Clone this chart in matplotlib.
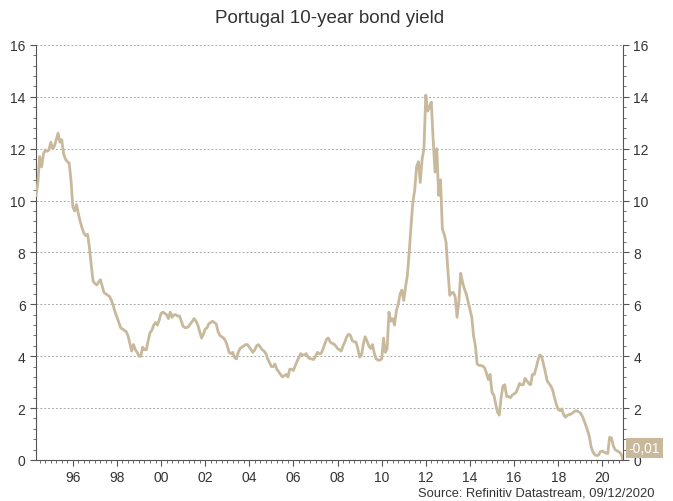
import matplotlib
matplotlib.use("Agg")
import matplotlib.pyplot as plt
import matplotlib.dates as mdates
from matplotlib.ticker import MultipleLocator
import pandas as pd

plt.rcParams['font.family'] = ['Liberation Sans', 'DejaVu Sans']

# monthly yields (%), May 1994 onwards
y1994 = [10.2, 10.7, 11.7, 11.3, 11.8, 11.95, 11.9, 11.95]
y1995 = [12.25, 12.0, 12.1, 12.35, 12.6, 12.25, 12.35, 11.8, 11.6, 11.5, 11.45, 10.8]
y1996 = [9.75, 9.6, 9.85, 9.5, 9.2, 8.95, 8.75, 8.65, 8.7, 8.2, 7.5, 6.9]
y1997 = [6.8, 6.75, 6.85, 6.95, 6.7, 6.45, 6.4, 6.35, 6.3, 6.15, 5.95, 5.7]
y1998 = [5.5, 5.3, 5.1, 5.05, 5.0, 4.95, 4.8, 4.5, 4.2, 4.45, 4.25, 4.15]
y1999 = [4.0, 4.0, 4.35, 4.25, 4.25, 4.6, 4.9, 5.0, 5.2, 5.3, 5.2, 5.4]
y2000 = [5.65, 5.7, 5.65, 5.6, 5.45, 5.7, 5.5, 5.6, 5.6, 5.55, 5.55, 5.35]
y2001 = [5.15, 5.1, 5.1, 5.15, 5.25, 5.35, 5.45, 5.35, 5.2, 4.95, 4.7, 4.85]
y2002 = [5.05, 5.1, 5.25, 5.3, 5.35, 5.3, 5.25, 4.95, 4.8, 4.75, 4.7, 4.6]
y2003 = [4.4, 4.15, 4.1, 4.15, 3.95, 3.9, 4.15, 4.3, 4.35, 4.4, 4.45, 4.45]
y2004 = [4.35, 4.25, 4.15, 4.25, 4.4, 4.45, 4.35, 4.25, 4.2, 4.1, 3.9, 3.75]
y2005 = [3.6, 3.6, 3.7, 3.5, 3.4, 3.3, 3.2, 3.25, 3.3, 3.2, 3.5, 3.5]
y2006 = [3.45, 3.65, 3.8, 3.95, 4.1, 4.05, 4.05, 4.1, 3.95, 3.9, 3.9, 3.87]
y2007 = [4.0, 4.15, 4.1, 4.1, 4.25, 4.45, 4.65, 4.7, 4.55, 4.5, 4.47, 4.4]
y2008 = [4.3, 4.25, 4.2, 4.4, 4.55, 4.75, 4.85, 4.8, 4.6, 4.55, 4.55, 4.3]
y2009 = [3.96, 4.05, 4.45, 4.75, 4.6, 4.4, 4.3, 4.45, 4.1, 3.9, 3.85, 3.85]
y2010 = [3.9, 4.7, 4.15, 4.3, 5.7, 5.35, 5.45, 5.2, 5.75, 6.0, 6.4, 6.55]
y2011 = [6.15, 6.7, 7.1, 8.0, 9.0, 9.95, 10.4, 11.3, 11.5, 10.7, 11.6, 12.0]
y2012 = [14.07, 13.45, 13.6, 13.8, 12.4, 11.1, 12.0, 10.2, 10.8, 8.9, 8.7, 8.4]
y2013 = [7.3, 6.35, 6.45, 6.46, 6.3, 5.5, 6.1, 7.2, 6.85, 6.6, 6.4, 6.1]
y2014 = [5.8, 5.5, 4.8, 4.4, 3.7, 3.65, 3.64, 3.62, 3.55, 3.35, 3.1, 3.3]
y2015 = [2.6, 2.5, 2.2, 1.85, 1.73, 2.4, 2.85, 2.9, 2.45, 2.45, 2.4, 2.5]
y2016 = [2.55, 2.6, 2.75, 2.95, 2.9, 2.9, 3.15, 3.05, 2.95, 2.9, 3.3, 3.3]
y2017 = [3.55, 3.85, 4.05, 4.0, 3.7, 3.4, 3.06, 2.95, 2.85, 2.7, 2.4, 2.15]
y2018 = [1.95, 1.9, 1.97, 1.75, 1.65, 1.72, 1.75, 1.77, 1.82, 1.88, 1.9, 1.86]
y2019 = [1.82, 1.7, 1.55, 1.35, 1.15, 0.9, 0.5, 0.3, 0.2, 0.17, 0.19, 0.32]
y2020 = [0.35, 0.3, 0.27, 0.25, 0.87, 0.85, 0.55, 0.4, 0.35, 0.32, 0.25, 0.1]
last_date = '2020-12-09'
last_yield = -0.01

values = (y1994 + y1995 + y1996 + y1997 + y1998 + y1999 + y2000 + y2001
          + y2002 + y2003 + y2004 + y2005 + y2006 + y2007 + y2008 + y2009
          + y2010 + y2011 + y2012 + y2013 + y2014 + y2015 + y2016 + y2017
          + y2018 + y2019 + y2020 + [last_yield])
dates = pd.date_range('1994-05-01', periods=len(values) - 1, freq='MS')
dates = dates.append(pd.DatetimeIndex([last_date]))
yields = pd.Series(values, index=dates)

line_color = '#c8b99c'
text_color = '#333333'

fig = plt.figure(figsize=(6.73, 5.02), dpi=100)
ax = fig.add_axes([0.0535, 0.0817, 0.8722, 0.8267])

ax.plot(yields.index, yields.values, color=line_color, lw=2.0, zorder=3)

ax.set_xlim(pd.Timestamp('1994-05-01'), pd.Timestamp(last_date))
ax.set_ylim(0, 16)

ax.yaxis.set_major_locator(MultipleLocator(2))
ax.yaxis.set_minor_locator(MultipleLocator(0.4))
ax.xaxis.set_major_locator(mdates.YearLocator(2))
ax.xaxis.set_major_formatter(mdates.DateFormatter('%y'))
ax.xaxis.set_minor_locator(mdates.MonthLocator(bymonth=[1, 4, 7, 10]))

ax.tick_params(axis='y', which='both', left=True, right=True,
               labelleft=True, labelright=True, direction='out',
               colors='#555555', labelcolor=text_color, labelsize=10)
ax.tick_params(axis='y', which='major', length=4, width=0.8)
ax.tick_params(axis='y', which='minor', length=2.5, width=0.6)
ax.tick_params(axis='x', which='major', length=4, width=0.8,
               colors='#555555', labelcolor=text_color, labelsize=10)
ax.tick_params(axis='x', which='minor', length=2.5, width=0.6, colors='#555555')

ax.grid(axis='y', which='major', color='#aaaaaa', lw=0.7,
        linestyle=(0, (2, 2)), zorder=1)
ax.spines['top'].set_visible(False)
for side in ['left', 'right', 'bottom']:
    ax.spines[side].set_color('#555555')
    ax.spines[side].set_linewidth(0.8)

# last value tag on the right axis
ax.annotate(f'{last_yield:.2f}'.replace('.', ','),
            xy=(1.0, last_yield), xycoords=('axes fraction', 'data'),
            xytext=(4, 9), textcoords='offset points',
            ha='left', va='center', fontsize=10, color='white',
            bbox=dict(boxstyle='square,pad=0.2', fc=line_color, ec='none'),
            annotation_clip=False, zorder=5)

fig.text(0.49, 0.963, 'Portugal 10-year bond yield', ha='center', va='center',
         fontsize=13.5, color=text_color)
fig.text(0.973, 0.016, 'Source: Refinitiv Datastream, 09/12/2020',
         ha='right', va='center', fontsize=9.3, color=text_color)

fig.savefig('out.png', dpi=100, facecolor='white')
